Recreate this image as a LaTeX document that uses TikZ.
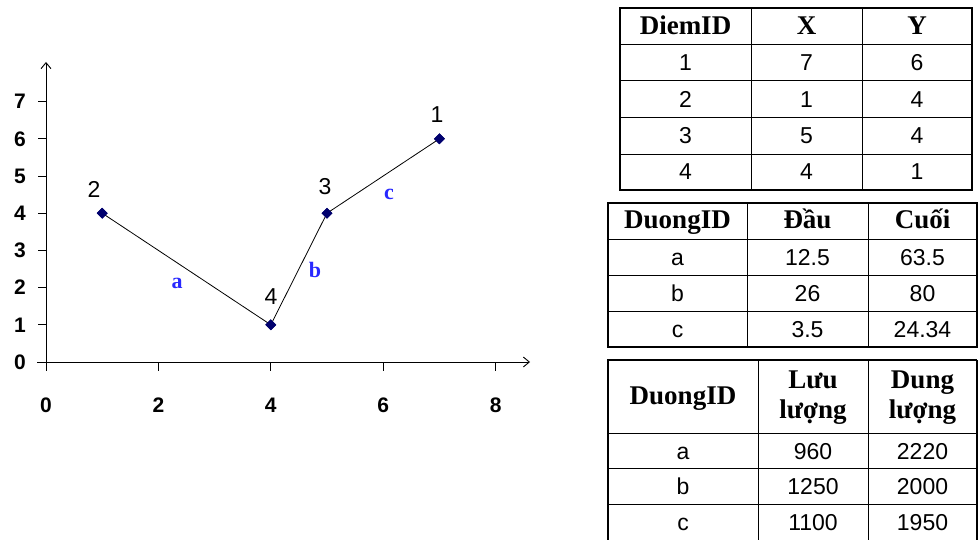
\documentclass[tikz,border=0pt]{standalone}
\usepackage{fontspec}
\setmainfont{Liberation Serif}
\newfontfamily\sansf{Liberation Sans}
\usetikzlibrary{shapes.geometric,arrows.meta}
\begin{document}
\begin{tikzpicture}[x=1pt,y=-1pt,
  axisline/.style={line width=0.9pt,-{Straight Barb[length=6pt,width=10pt]}},
  tickline/.style={line width=0.9pt},
  ylab/.style={font=\sansf\bfseries\fontsize{21}{21}\selectfont,anchor=center},
  xlab/.style={font=\sansf\bfseries\fontsize{21}{21}\selectfont,anchor=center},
  pt/.style={diamond,fill={rgb,255:red,0;green,0;blue,110},inner sep=0pt,minimum size=11pt},
  ptlab/.style={font=\sansf\fontsize{23}{23}\selectfont},
  edgelab/.style={font=\bfseries\fontsize{22}{22}\selectfont,text={rgb,255:red,40;green,40;blue,255}},
  seg/.style={line width=0.8pt,black},
  hdr/.style={font=\bfseries\fontsize{27}{30}\selectfont,anchor=center},
  hdrone/.style={font=\bfseries\fontsize{27}{30}\selectfont,anchor=center,text height=19pt,text depth=6pt,inner sep=0pt},
  cell/.style={font=\sansf\fontsize{23}{23}\selectfont,anchor=center,text height=17pt,text depth=1pt,inner sep=0pt},
  outer/.style={line width=1.5pt},
  inner/.style={line width=1pt}
]
\useasboundingbox (0,0) rectangle (979,540);

% ---------- chart ----------
\coordinate (O) at (46,362);
\coordinate (yend) at (46,62);
\coordinate (xend) at (530,362);
\draw[axisline] (O) -- (yend);
\draw[axisline] (37,362) -- (xend);
\foreach \k in {0,...,7} {
  \draw[tickline] (38,{362-37.2*\k}) -- (46,{362-37.2*\k});
  \node[ylab] (yl\k) at (20,{362-37.2*\k}) {\k};
}
\foreach \k in {0,2,4,6,8} {
  \draw[tickline] ({46+56.2*\k},362) -- ({46+56.2*\k},371);
  \node[xlab] (xl\k) at ({46+56.2*\k},405) {\k};
}
\node[pt] (p1) at ({46+56.2*7},{362-37.2*6}) {};
\node[pt] (p2) at ({46+56.2*1},{362-37.2*4}) {};
\node[pt] (p3) at ({46+56.2*5},{362-37.2*4}) {};
\node[pt] (p4) at ({46+56.2*4},{362-37.2*1}) {};
\draw[seg] (p2.center) -- (p4.center) -- (p3.center) -- (p1.center);
\node[pt] at (p1) {};\node[pt] at (p2) {};\node[pt] at (p3) {};\node[pt] at (p4) {};
\node[ptlab] (l1) at (437,115) {1};
\node[ptlab] (l2) at (94,189) {2};
\node[ptlab] (l3) at (325,187) {3};
\node[ptlab] (l4) at (271,297) {4};
\node[edgelab] (ea) at (177,283) {a};
\node[edgelab] (eb) at (315,270) {b};
\node[edgelab] (ec) at (389,194) {c};

% ---------- table 1 ----------
\foreach \y in {45,81,118,155} \draw[inner] (620,\y) -- (972,\y);
\foreach \x in {751,862} \draw[inner] (\x,8) -- (\x,190);
\draw[outer] (620,8) rectangle (972,190);
\node[hdrone] (t1h1) at (685.5,28) {DiemID};
\node[hdrone] (t1h2) at (806.5,28) {X};
\node[hdrone] (t1h3) at (917,28) {Y};
\foreach \a/\b/\c [count=\r] in {1/7/6,2/1/4,3/5/4,4/4/1} {
  \pgfmathsetmacro\yy{45+36.25*(\r-1)+18}
  \node[cell] (t1a\r) at (685.5,\yy) {\a};
  \node[cell] (t1b\r) at (806.5,\yy) {\b};
  \node[cell] (t1c\r) at (917,\yy) {\c};
}

% ---------- table 2 ----------
\foreach \y in {239,275,311} \draw[inner] (608,\y) -- (978,\y);
\foreach \x in {747,868} \draw[inner] (\x,203) -- (\x,347);
\draw[outer] (608,203) rectangle (977,347);
\node[hdrone] (t2h1) at (677.5,222) {DuongID};
\node[hdrone] (t2h2) at (807.5,222) {Đầu};
\node[hdrone] (t2h3) at (922.5,222) {Cuối};
\foreach \a/\b/\c [count=\r] in {a/12.5/63.5,b/26/80,c/3.5/24.34} {
  \pgfmathsetmacro\yy{239+36*(\r-1)+18}
  \node[cell] (t2a\r) at (677.5,\yy) {\a};
  \node[cell] (t2b\r) at (807.5,\yy) {\b};
  \node[cell] (t2c\r) at (922.5,\yy) {\c};
}

% ---------- table 3 ----------
\foreach \y in {433,468,504} \draw[inner] (608,\y) -- (978,\y);
\foreach \x in {758,868} \draw[inner] (\x,360) -- (\x,540);
\draw[outer] (977,360) -- (608,360) -- (608,540);
\draw[outer] (977,360) -- (977,540);
\node[hdrone] (t3h1) at (683,398) {DuongID};
\node[hdr,align=center] (t3h2) at (813,398) {Lưu\\lượng};
\node[hdr,align=center] (t3h3) at (922.5,398) {Dung\\lượng};
\foreach \a/\b/\c [count=\r] in {a/960/2220,b/1250/2000,c/1100/1950} {
  \pgfmathsetmacro\yy{433+35.5*(\r-1)+18}
  \node[cell] (t3a\r) at (683,\yy) {\a};
  \node[cell] (t3b\r) at (813,\yy) {\b};
  \node[cell] (t3c\r) at (922.5,\yy) {\c};
}
\end{tikzpicture}
\end{document}
